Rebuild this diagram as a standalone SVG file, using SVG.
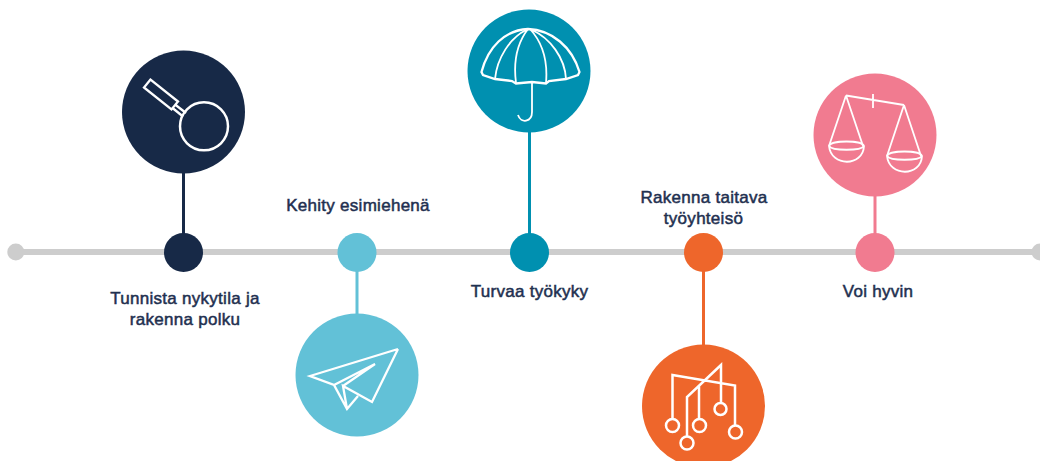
<svg xmlns="http://www.w3.org/2000/svg" width="1040" height="461" viewBox="0 0 1040 461">
<style>
text{font-family:"Liberation Sans",Arial,sans-serif;font-size:17px;letter-spacing:.28px;fill:#1f3050;stroke:#1f3050;stroke-width:.5px;text-anchor:middle}
.i{fill:none;stroke:#fff;stroke-width:2.300;stroke-linejoin:miter}
.t{fill:none;stroke:#fff;stroke-width:1.800}
.c{fill:none;stroke:#fff;stroke-width:2.500}
</style>
<rect width="1040" height="461" fill="#fff"/>
<g id="connectors">
<line x1="15" y1="252" x2="1040" y2="252" stroke="#cdcdcd" stroke-width="6"/>
<line x1="183.500" y1="170" x2="183.500" y2="252" stroke="#172947" stroke-width="3"/>
<line x1="357" y1="252" x2="357" y2="320" stroke="#62c1d7" stroke-width="3"/>
<line x1="529.500" y1="130" x2="529.500" y2="252" stroke="#0090b0" stroke-width="3"/>
<line x1="703.500" y1="252" x2="703.500" y2="350" stroke="#ee662b" stroke-width="3"/>
<line x1="875" y1="190" x2="875" y2="252" stroke="#f17b90" stroke-width="3"/>
</g>
<g id="start"><circle cx="15.800" cy="252" r="8.500" fill="#cdcdcd"/></g>
<g id="end"><circle cx="1040" cy="252" r="8.500" fill="#cdcdcd"/></g>
<g id="n1">
<circle cx="183.500" cy="252.500" r="19.500" fill="#172947"/>
<circle cx="183.500" cy="112" r="61.500" fill="#172947"/>
<circle class="c" cx="204" cy="126.300" r="24"/>
<path class="i" d="M150.500 79.500L144 87.500L171.500 109.500L178 101.500ZM175 104.500L186 113M172.500 108L183 116.500"/>
<text x="185" y="304">Tunnista nykytila ja</text>
<text x="185" y="325">rakenna polku</text>
</g>
<g id="n2">
<circle cx="357" cy="252.500" r="19.500" fill="#62c1d7"/>
<circle cx="357" cy="375" r="61.500" fill="#62c1d7"/>
<path class="i" d="M398 349L310 376L334 385L347 409L358 396M398 349L372 402L343 386L347 409M334 385L375 364L343 386"/>
<text x="358" y="211">Kehity esimiehenä</text>
</g>
<g id="n3">
<circle cx="529.500" cy="252.500" r="19.500" fill="#0090b0"/>
<circle cx="529" cy="71" r="61.500" fill="#0090b0"/>
<path class="i" d="M481.500 72C488 47 505 30 528 29C552 30 572 47 579.500 72L578 75L566 79L549 81L546 83.500L532 82L516 83.500L512 81L495 79L483 75Z"/>
<path class="t" d="M495 79C497 58 510 38 526 30M516 83C513 60 518 42 528 29M546 83C548 60 542 42 530 29M566 79C565 58 550 38 532 30"/>
<path class="t" d="M532 83V112C532 122 521 124 518 115"/>
<text x="529.500" y="297">Turvaa työkyky</text>
</g>
<g id="n4">
<circle cx="703.500" cy="252.500" r="19.500" fill="#ee662b"/>
<circle cx="703.500" cy="406" r="61.500" fill="#ee662b"/>
<path class="c" d="M672.500 418V375L735 385.500V425.500M687 436V397L721 365V403.500M699 419V385"/>
<circle class="c" cx="672.500" cy="425.500" r="6.500"/>
<circle class="c" cx="687" cy="443" r="6.500"/>
<circle class="c" cx="699.500" cy="425.500" r="6.500"/>
<circle class="c" cx="720.500" cy="409" r="6"/>
<circle class="c" cx="735.500" cy="432" r="6.500"/>
<text x="704" y="203">Rakenna taitava</text>
<text x="703.500" y="224">työyhteisö</text>
</g>
<g id="n5">
<circle cx="875" cy="252.500" r="19.500" fill="#f17b90"/>
<circle cx="875" cy="135" r="61.500" fill="#f17b90"/>
<path class="t" d="M846 95.500L904 105M873 94V108M846 95.500L829 146M846 95.500L863 146M904 105L887 156M904 105L921 156"/>
<path class="t" d="M829 146C831 167 863 167 864 146C862 140 831 140 829 146C832 151 861 151 864 146"/>
<path class="t" d="M887 156C889 177 921 177 922 156C920 150 889 150 887 156C890 161 919 161 922 156"/>
<text x="878" y="297">Voi hyvin</text>
</g>
</svg>
